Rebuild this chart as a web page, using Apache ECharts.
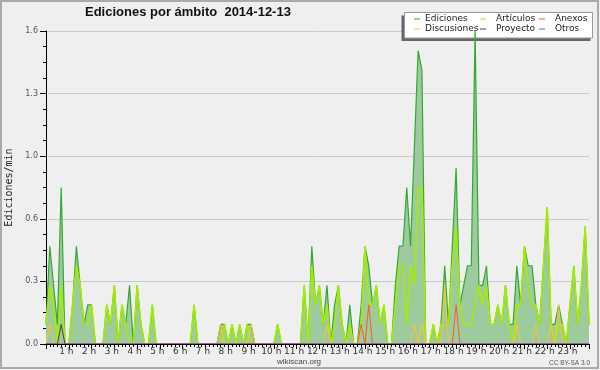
<!DOCTYPE html>
<html><head><meta charset="utf-8">
<script src="https://cdn.jsdelivr.net/npm/echarts@6/dist/echarts.min.js"></script>
<style>html,body{margin:0;padding:0;background:#efefef}#c{width:600px;height:370px}</style>
</head><body><div id="c"></div>
<script>
// time of each 10-minute bin, in minutes after 00:00
const binMinutes = [
  0,10,20,30,40,50, 60,70,80,90,100,110, 120,130,140,150,160,170, 180,190,200,210,220,230,
  240,250,260,270,280,290, 300,310,320,330,340,350, 360,370,380,390,400,410, 420,430,440,450,460,470,
  480,490,500,510,520,530, 540,550,560,570,580,590, 600,610,620,630,640,650, 660,670,680,690,700,710,
  720,730,740,750,760,770, 780,790,800,810,820,830, 840,850,860,870,880,890, 900,910,920,930,940,950,
  960,970,980,990,1000,1010, 1020,1030,1040,1050,1060,1070, 1080,1090,1100,1110,1120,1130, 1140,1150,1160,1170,1180,1190,
  1200,1210,1220,1230,1240,1250, 1260,1270,1280,1290,1300,1310, 1320,1330,1340,1350,1360,1370, 1380,1390,1400,1410,1420,1430
];
const ediciones = [
  .1,.5,.3,.1,.8,0,  0,.2,.5,.3,.1,.2,  .2,0,0,0,.2,.1,  .3,0,.2,.1,.3,0,
  .3,.1,0,0,.2,0,  0,0,0,0,0,0,  0,0,0,.2,0,0,  0,0,0,0,.1,.1,
  0,.1,0,.1,0,.1,  .1,0,0,0,0,0,  0,.1,0,0,0,0,  0,0,.3,0,.5,.2,
  .3,.1,.3,0,.2,.3,  .1,0,.2,0,0,.2,  .5,.4,.2,.3,.1,.2,  0,0,.3,.5,.5,.8,
  .5,1.0,1.5,1.4,0,0,  .1,0,.1,.4,.1,.5,  .9,.2,.3,.4,.4,1.6,  .3,.3,.4,.1,.1,.2,
  .1,.3,.1,.1,.4,.2,  .5,.4,.4,.2,.1,.4,  .7,.1,.1,.2,.1,0,  .2,.4,.1,.3,.6,.1
];
const articulos = [
  .1,.3,.2,0,.3,0,  0,.2,.4,.3,.1,.1,  .2,0,0,0,.2,.1,  .3,0,.2,.1,0,0,
  .3,.1,0,0,.2,0,  0,0,0,0,0,0,  0,0,0,.2,0,0,  0,0,0,0,0,.1,
  0,.1,0,.1,0,.1,  0,0,0,0,0,0,  0,.1,0,0,0,0,  0,0,.3,0,.4,.2,
  .3,.1,.2,0,.1,.3,  .1,0,.1,0,0,.1,  .5,.2,.2,.3,.1,.2,  0,0,.2,.4,.4,.1,
  .4,.3,.8,.8,0,0,  .1,0,.1,.1,.1,.4,  .6,.2,.1,.1,.1,.2,  .3,.2,.3,.1,.1,.2,
  .1,.3,.1,0,.2,.2,  .5,.3,.2,.2,.1,.4,  .7,.1,0,.1,.1,0,  .2,.4,.1,.3,.6,.1
];
const anexos = [
  0,0,0,0,0,0,  0,0,0,0,0,0,  0,0,0,0,0,0,  0,0,0,0,0,0,
  0,0,0,0,0,0,  0,0,0,0,0,0,  0,0,0,0,0,0,  0,0,0,0,0,0,
  0,0,0,0,0,0,  0,0,0,0,0,0,  0,0,0,0,0,0,  0,0,0,0,0,0,
  0,0,0,0,0,0,  0,0,0,0,0,.1,  0,.2,0,0,0,0,  0,0,0,0,0,0,
  0,0,0,0,0,0,  0,0,0,0,0,0,  .2,0,0,0,0,0,  0,0,0,0,0,0,
  0,0,0,0,0,0,  0,0,0,0,0,0,  0,0,0,0,0,0,  0,0,0,0,0,0
];
const discusiones = [
  0,.1,0,0,0,0,  0,0,0,0,0,0,  0,0,0,0,0,0,  0,0,0,0,0,0,
  0,0,0,0,0,0,  0,0,0,0,0,0,  0,0,0,0,0,0,  0,0,0,0,.1,0,
  0,0,0,0,0,0,  .1,0,0,0,0,0,  0,0,0,0,0,0,  0,0,0,0,0,0,
  0,0,.1,0,0,0,  0,0,0,0,0,0,  0,0,0,0,0,0,  0,0,0,0,0,0,
  0,.1,0,.1,0,0,  0,0,0,.3,0,0,  0,0,0,0,0,0,  0,0,0,0,0,0,
  0,0,0,0,.1,0,  0,0,0,.1,0,0,  0,.1,0,.2,0,0,  0,0,0,0,0,0
];
const proyecto = [
  0,0,0,0,.1,0,  0,0,0,0,0,0,  0,0,0,0,0,0,  0,0,0,0,0,0,
  0,0,0,0,0,0,  0,0,0,0,0,0,  0,0,0,0,0,0,  0,0,0,0,0,0,
  0,0,0,0,0,0,  0,0,0,0,0,0,  0,0,0,0,0,0,  0,0,0,0,0,0,
  0,0,0,0,0,0,  0,0,0,0,0,0,  0,0,0,0,0,0,  0,0,0,0,0,0,
  0,0,0,0,0,0,  0,0,0,0,0,0,  0,0,0,0,0,0,  0,0,0,0,0,0,
  0,0,0,0,0,0,  0,0,0,0,0,0,  0,0,0,0,0,0,  0,0,0,0,0,0
];
const otros = [
  0,0,0,0,0,0,  0,0,0,0,0,0,  0,0,0,0,0,0,  0,0,0,0,0,0,
  0,0,0,0,0,0,  0,0,0,0,0,0,  0,0,0,0,0,0,  0,0,0,0,0,0,
  0,0,0,0,0,0,  0,0,0,0,0,0,  0,0,0,0,0,0,  0,0,0,0,0,0,
  0,0,0,0,0,0,  0,0,0,0,0,0,  0,0,0,0,0,0,  0,0,0,0,0,0,
  0,0,0,0,0,0,  0,0,0,0,0,0,  0,0,0,0,0,0,  0,0,0,0,0,0,
  0,0,0,0,0,0,  0,0,0,0,0,0,  0,0,0,0,0,0,  0,0,0,0,0,0
];
const titleText = 'Ediciones por ámbito  2014-12-13';

const pairs = arr => arr.map((v, i) => [binMinutes[i], v]);
function line(name, arr, color, width, extra) {
  return Object.assign({
    name, type: 'line', data: pairs(arr), color: color, symbol: 'none',
    lineStyle: { color: color, width: width }, xAxisIndex: 0, yAxisIndex: 0
  }, extra || {});
}
const legendBase = {
  orient: 'vertical', top: 14, padding: 0, itemGap: 0, itemWidth: 6, itemHeight: 1,
  icon: 'rect', selectedMode: false, z: 6,
  textStyle: { fontFamily: 'DejaVu Sans', fontSize: 9, color: '#222', lineHeight: 10 }
};
const chart = echarts.init(document.getElementById('c'), null, { renderer: 'canvas' });
chart.setOption({
  animation: false,
  backgroundColor: '#efefef',
  title: { text: titleText, left: 85, top: 6, padding: 0,
    textStyle: { fontFamily: 'Liberation Sans', fontWeight: 'bold', fontSize: 13, color: '#111' } },
  grid: { left: 46, right: 11, top: 31, bottom: 26, outerBoundsMode: 'none', containLabel: false },
  legend: [
    Object.assign({}, legendBase, { left: 414, data: ['Ediciones', 'Discusiones'] }),
    Object.assign({}, legendBase, { left: 480, data: ['Artículos', 'Proyecto'],
      textStyle: Object.assign({}, legendBase.textStyle, { padding: [0, 0, 0, 5] }) }),
    Object.assign({}, legendBase, { left: 539, data: ['Anexos', 'Otros'],
      textStyle: Object.assign({}, legendBase.textStyle, { padding: [0, 0, 0, 5] }) })
  ],
  xAxis: [
    { type: 'value', min: 0, max: 1430, interval: 60, position: 'bottom', z: 10,
      axisLine: { lineStyle: { color: '#000', width: 1 } },
      axisTick: { length: 5, lineStyle: { color: '#000' } },
      splitLine: { show: false },
      axisLabel: { margin: 3, fontFamily: 'DejaVu Sans', fontSize: 9, color: '#333', padding: [0, 5, 0, 0],
        formatter: v => (v % 60 === 0 && v > 0) ? (v / 60) + ' h' : '' } },
    { type: 'value', min: 0, max: 1430, interval: 10, position: 'bottom', z: 10,
      axisLine: { show: false }, axisLabel: { show: false }, splitLine: { show: false },
      axisTick: { length: 3, lineStyle: { color: '#000' } } }
  ],
  yAxis: { type: 'value', min: 0, max: 1.6, interval: 0.32,
    name: 'Ediciones/min', nameLocation: 'middle', nameGap: 32, nameRotate: 90,
    nameTextStyle: { fontFamily: 'DejaVu Sans Mono', fontSize: 10, color: '#222' },
    axisLine: { show: true, lineStyle: { color: '#000' } },
    axisTick: { show: true, length: 6, lineStyle: { color: '#000' } },
    minorTick: { show: true, splitNumber: 4, length: 3, lineStyle: { color: '#000' } },
    splitLine: { show: true, lineStyle: { color: '#c9c9c9', width: 1 } },
    axisLabel: { margin: 8, fontFamily: 'DejaVu Sans', fontSize: 8, color: '#555',
      formatter: v => v.toFixed(1) } },
  graphic: [
    { type: 'rect', z: 100, silent: true, shape: { x: 1, y: 1, width: 597, height: 367 },
      style: { fill: 'none', stroke: '#aaaaaa', lineWidth: 2 } },
    { type: 'rect', z: 1, silent: true, shape: { x: 401.5, y: 15.5, width: 189, height: 25.5 },
      style: { fill: '#666666' } },
    { type: 'rect', z: 1, silent: true, shape: { x: 404.5, y: 12.5, width: 188, height: 25.5 },
      style: { fill: '#ffffff', stroke: '#999999', lineWidth: 1 } },
    { type: 'text', z: 5, silent: true, x: 299, y: 362,
      style: { text: 'wikiscan.org', fontFamily: 'Liberation Sans', fontSize: 8, fill: '#444', align: 'center', verticalAlign: 'middle' } },
    { type: 'text', z: 5, silent: true, x: 590, y: 363,
      style: { text: 'CC BY-SA 3.0', fontFamily: 'Liberation Sans', fontSize: 6.5, fill: '#555', align: 'right', verticalAlign: 'middle' } }
  ],
  series: [
    line('Ediciones', ediciones, '#33a833', 1.2, { areaStyle: { color: '#9ecb9e', opacity: 1 }, z: 2 }),
    line('Artículos', articulos, '#a6ec00', 1.6, { z: 3 }),
    line('Anexos', anexos, '#ff5a1e', 1, { z: 4 }),
    line('Discusiones', discusiones, '#f8c530', 1, { z: 4 }),
    line('Proyecto', proyecto, '#444444', 1, { z: 4 }),
    line('Otros', otros, '#9b45f0', 1, { z: 4 })
  ]
});
</script></body></html>
